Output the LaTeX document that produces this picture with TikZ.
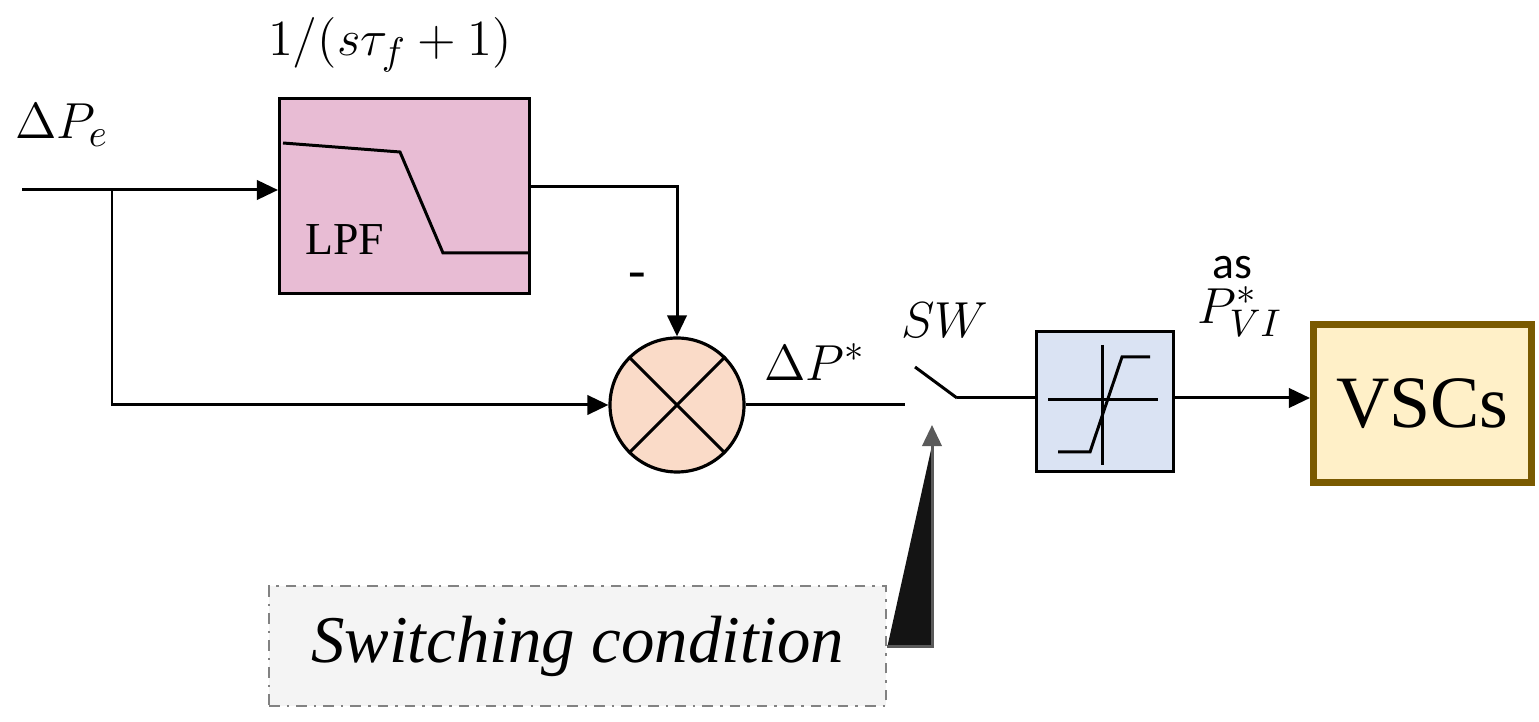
\documentclass[tikz,border=0pt]{standalone}
\usepackage{fontspec}
\setmainfont{Liberation Serif}
\newfontfamily\sansf{Carlito}
\usetikzlibrary{arrows.meta,shapes.geometric}
\begin{document}
\begin{tikzpicture}[x=0.01cm,y=-0.01cm,
  line/.style={line width=0.85pt},
  arr/.style={line width=0.85pt,-{Triangle[length=6pt,width=5.5pt]}},
  lbl/.style={font=\fontsize{15}{18}\selectfont}]
\useasboundingbox (0,0) rectangle (1539,722);
% LPF
\node[draw=black,line width=0.9pt,fill={rgb,255:red,232;green,188;blue,212},minimum width=250*0.01cm,minimum height=195*0.01cm,anchor=north west,inner sep=0] (lpf) at (278,97) {};
\draw[line] (283,143) -- (400,152) -- (443,253) -- (528,253);
\node[font=\fontsize{13}{16}\selectfont] (lpft) at (345,240) {LPF};
\node[lbl] (tf) at (390,45) {$1/(s\tau_f+1)$};
% circle
\node[draw=black,line width=0.9pt,circle,minimum size=134*0.01cm,fill={rgb,255:red,250;green,219;blue,200},inner sep=0] (c) at (677,405) {};
\draw[line] (c.north west) -- (c.south east) (c.north east) -- (c.south west);
% input
\coordinate (in) at (22,190);
\coordinate (br) at (112,190);
\node[lbl] (dpe) at (62,125) {$\Delta P_e$};
\draw[arr] (in) -- (lpf.west |- in);
\draw[arr] (br) |- (c.west);
\draw[arr] (528,187) -| (c.north);
\node[lbl] (minus) at (637,280) {-};
% switch
\coordinate (s1) at (905,405);
\coordinate (s2) at (915,367);
\coordinate (s3) at (957,398);
\draw[line] (c.east) -- (s1);
\draw[line] (s2) -- (s3);
\node[lbl] (dps) at (815,362) {$\Delta P^*$};
\node[lbl] (sw) at (945,320) {$SW$};
% saturation
\node[draw=black,line width=0.9pt,fill={rgb,255:red,218;green,227;blue,243},minimum width=137*0.01cm,minimum height=140*0.01cm,anchor=north west,inner sep=0] (sat) at (1035,330) {};
\draw[line] (s3) -- (sat.west |- s3);
\draw[line] (1048,400) -- (1158,400) (1102,345) -- (1102,465);
\draw[line] (1058,452) -- (1090,452) -- (1122,357) -- (1150,357);
% VSCs
\node[draw={rgb,255:red,122;green,90;blue,0},line width=2pt,fill={rgb,255:red,255;green,240;blue,200},minimum width=218*0.01cm,minimum height=158*0.01cm,anchor=north west,inner sep=0,font=\fontsize{21}{25}\selectfont] (vsc) at (1310,321) {VSCs};
\draw[arr] (sat.east |- s3) -- (vsc.west |- s3);
\node[font=\sansf\fontsize{13}{16}\selectfont] (as) at (1232,268) {as};
\node[lbl] (pvi) at (1240,312) {$P^*_{VI}$};
% switching condition
\node[draw={rgb,255:red,130;green,130;blue,130},line width=0.7pt,dash dot,fill={rgb,255:red,244;green,244;blue,244},minimum width=617*0.01cm,minimum height=120*0.01cm,anchor=north west,inner sep=0,font=\itshape\fontsize{19}{23}\selectfont] (scond) at (268,585) {Switching condition};
\coordinate (up) at (932,425);
\draw[arr,draw={rgb,255:red,90;green,90;blue,90},fill={rgb,255:red,20;green,20;blue,20}] (scond.east) -| (up);
\end{tikzpicture}
\end{document}
